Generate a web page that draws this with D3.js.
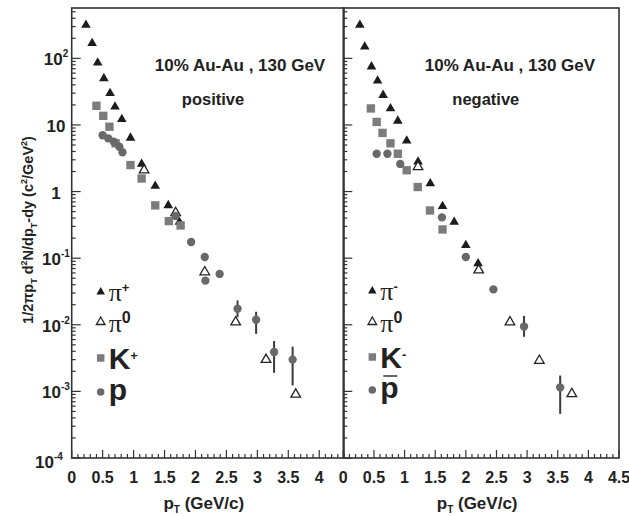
<!DOCTYPE html>
<html>
<head>
<meta charset="utf-8">
<script src="https://cdn.jsdelivr.net/npm/d3@7"></script>
<style>
  body { margin: 0; background: #fff; }
  svg { display: block; }
  text { font-family: "Liberation Sans", Arial, sans-serif; font-weight: bold; fill: #222; }
</style>
</head>
<body>
<svg id="chart" width="629" height="516"></svg>
<script>
// [pT, yield] and optional [low, high] error for a few points
const posPiPlus = [[0.23,316],[0.33,168],[0.42,86],[0.52,50],[0.62,30],[0.70,18.7],[0.81,12.2],
    [0.95,6.4],[1.13,2.6],[1.35,1.21],[1.56,0.62],[1.74,0.35]];
const posPi0 = [[1.17,2.1],[1.68,0.48],[2.15,0.062],[2.65,0.011],[3.14,0.003],[3.62,0.0009]];
const posKPlus = [[0.40,19.4],[0.51,13.7],[0.61,9.4],[0.71,5.3],[0.95,2.5],[1.13,1.57],[1.35,0.62],
    [1.57,0.36],[1.76,0.31]];
const posProton = [[0.50,7.0],[0.59,6.3],[0.68,5.6],[0.77,4.7],[0.82,3.9],[1.68,0.43],[1.93,0.175],
    [2.15,0.104],[2.16,0.046],[2.39,0.058],[2.68,0.0174,0.013,0.0232],[2.98,0.0119,0.0073,0.0157],
    [3.27,0.0039,0.0019,0.0057],[3.57,0.003,0.00123,0.0047]];

const negPiMinus = [[0.27,316],[0.35,149],[0.46,75],[0.56,46],[0.65,28],[0.77,17.7],[0.89,11.5],
    [1.035,5.8],[1.22,2.8],[1.42,1.32],[1.62,0.6],[1.81,0.35],[2.0,0.156],[2.2,0.083]];
const negPi0 = [[1.22,2.35],[2.21,0.066],[2.72,0.011],[3.2,0.0029],[3.73,0.00092]];
const negKMinus = [[0.45,17.7],[0.545,11.1],[0.64,7.6],[0.77,5.3],[0.89,3.7],[1.035,2.09],[1.215,1.17],
    [1.415,0.52],[1.62,0.27]];
const negPbar = [[0.545,3.7],[0.72,3.7],[0.93,2.6],[1.61,0.41],[2.0,0.104],[2.45,0.034],
    [2.95,0.0094,0.0066,0.0136],[3.54,0.00115,0.00046,0.00173]];

const xTicksLeft = [0, 0.5, 1, 1.5, 2, 2.5, 3, 3.5, 4];
const xTicksRight = [0, 0.5, 1, 1.5, 2, 2.5, 3, 3.5, 4, 4.5];
const yTickExps = [2, 1, 0, -1, -2, -3, -4];

const svg = d3.select("#chart");
const y = d3.scaleLog().domain([1e-4, 570]).range([458, 8]);
const xL = d3.scaleLinear().domain([0, 4.4]).range([71.7, 344]);
const xR = d3.scaleLinear().domain([0, 4.5]).range([343.3, 619]);

const triFill = "#1c1c1c", sqFill = "#7c7c7c", circFill = "#696969";

function marker(g, type, size, fill, stroke) {
    return g.append("path")
        .attr("d", d3.symbol().type(type).size(size)())
        .attr("fill", fill)
        .attr("stroke", stroke || "none")
        .attr("stroke-width", stroke ? 1.3 : 0);
}

function drawPanel(x, ticks, series, title, sub, legend) {
    const g = svg.append("g");
    const [x0, x1] = x.range();

    // minor + major ticks on bottom (pointing up)
    const minor = d3.range(0, x.domain()[1] + 0.001, 0.1);
    g.selectAll(".xt").data(minor).join("line")
        .attr("x1", d => x(d)).attr("x2", d => x(d))
        .attr("y1", 458).attr("y2", d => Math.abs(d * 2 - Math.round(d * 2)) < 0.01 ? 450 : 454)
        .attr("stroke", "#333").attr("stroke-width", 1.2);

    // log ticks on the left edge
    const yt = y.ticks();
    g.selectAll(".yt").data(yt).join("line")
        .attr("x1", x0).attr("x2", d => {
            const m = d / Math.pow(10, Math.floor(Math.log10(d) + 1e-9));
            return x0 + (Math.abs(m - 1) < 1e-6 ? 9 : 4);
        })
        .attr("y1", d => y(d)).attr("y2", d => y(d))
        .attr("stroke", "#333").attr("stroke-width", 1.2);

    g.append("rect").attr("x", x0).attr("y", 8).attr("width", x1 - x0).attr("height", 450)
        .attr("fill", "none").attr("stroke", "#333").attr("stroke-width", 1.6);

    // x tick labels
    g.selectAll(".xl").data(ticks).join("text")
        .attr("x", d => x(d)).attr("y", 483)
        .attr("text-anchor", "middle").attr("font-size", 16)
        .text(d => d);

    // x title
    const xt = g.append("text").attr("x", (x0 + x1) / 2 - 4).attr("y", 509)
        .attr("text-anchor", "middle").attr("font-size", 17);
    xt.append("tspan").text("p");
    xt.append("tspan").attr("font-size", 10).attr("dy", 4).text("T");
    xt.append("tspan").attr("dy", -4).text(" (GeV/c)");

    g.append("text").attr("x", x(2.72)).attr("y", 71).attr("text-anchor", "middle")
        .attr("font-size", 17).text(title);
    g.append("text").attr("x", x(1.78)).attr("y", 105).attr("font-size", 16.5).text(sub);

    // error bars
    series.forEach(s => {
        g.selectAll(null).data(s.data.filter(d => d.length > 2)).join("line")
            .attr("x1", d => x(d[0])).attr("x2", d => x(d[0]))
            .attr("y1", d => y(d[2])).attr("y2", d => y(d[3]))
            .attr("stroke", "#3a3a3a").attr("stroke-width", 2);
    });

    // points
    series.forEach(s => {
        s.data.forEach(d => {
            marker(g, s.type, s.size, s.fill, s.stroke)
                .attr("transform", `translate(${x(d[0])},${y(d[1])})`);
        });
    });

    // legend
    const lx = x0 + 29;
    legend.forEach((l, i) => {
        const s = series[i];
        marker(g, s.type, s.size * 0.8, s.fill, s.stroke)
            .attr("transform", `translate(${lx},${l.y})`);
        const t = g.append("text").attr("x", lx + 8).attr("y", l.y + l.dy);
        if (l.greek) {
            t.append("tspan").attr("font-family", "Liberation Serif").attr("font-weight", "normal")
                .attr("font-size", 26).text("π");
        } else {
            t.append("tspan").attr("font-size", 30).text(l.base);
            if (l.bar) {
                g.append("line").attr("x1", lx + 11).attr("x2", lx + 25)
                    .attr("y1", l.y - 14).attr("y2", l.y - 14)
                    .attr("stroke", "#333").attr("stroke-width", 1.5);
            }
        }
        if (l.sup) t.append("tspan").attr("font-size", l.sup === "0" ? 16 : 13)
            .attr("dy", -9).text(l.sup);
    });
}

drawPanel(xL, xTicksLeft, [
    { data: posPiPlus, type: d3.symbolTriangle, size: 40, fill: triFill },
    { data: posPi0, type: d3.symbolTriangle, size: 40, fill: "#fff", stroke: "#222" },
    { data: posKPlus, type: d3.symbolSquare, size: 70, fill: sqFill },
    { data: posProton, type: d3.symbolCircle, size: 55, fill: circFill }
], "10% Au-Au , 130 GeV", "positive", [
    { y: 292, dy: 9, greek: true, sup: "+" },
    { y: 322, dy: 10, greek: true, sup: "0" },
    { y: 358, dy: 11, base: "K", sup: "+" },
    { y: 392, dy: 8, base: "p" }
]);

drawPanel(xR, xTicksRight, [
    { data: negPiMinus, type: d3.symbolTriangle, size: 40, fill: triFill },
    { data: negPi0, type: d3.symbolTriangle, size: 40, fill: "#fff", stroke: "#222" },
    { data: negKMinus, type: d3.symbolSquare, size: 70, fill: sqFill },
    { data: negPbar, type: d3.symbolCircle, size: 55, fill: circFill }
], "10% Au-Au , 130 GeV", "negative", [
    { y: 291, dy: 9, greek: true, sup: "-" },
    { y: 322, dy: 10, greek: true, sup: "0" },
    { y: 357, dy: 11, base: "K", sup: "-" },
    { y: 390, dy: 8, base: "p", bar: true }
]);

// y tick labels
const yl = svg.append("g");
yTickExps.forEach(e => {
    const last = e === -4;
    const t = yl.append("text").attr("x", last ? 49 : 56).attr("y", y(Math.pow(10, e)) + (last ? 10 : 7))
        .attr("text-anchor", "middle").attr("font-size", 17);
    if (e === 0) t.text("1");
    else if (e === 1) t.text("10");
    else {
        t.append("tspan").text("10");
        t.append("tspan").attr("font-size", 10).attr("dy", -8).text(e);
    }
});

// y title
const ytl = svg.append("text").attr("transform", "translate(33,230) rotate(-90)")
    .attr("text-anchor", "middle").attr("font-size", 14.5);
ytl.append("tspan").text("1/2πp");
ytl.append("tspan").attr("font-size", 9).attr("dy", 4).text("T");
ytl.append("tspan").attr("dy", -4).text(" d");
ytl.append("tspan").attr("font-size", 9).attr("dy", -6).text("2");
ytl.append("tspan").attr("dy", 6).text("N/dp");
ytl.append("tspan").attr("font-size", 9).attr("dy", 4).text("T");
ytl.append("tspan").attr("dy", -4).text("-dy (c");
ytl.append("tspan").attr("font-size", 9).attr("dy", -6).text("2");
ytl.append("tspan").attr("dy", 6).text("/GeV");
ytl.append("tspan").attr("font-size", 9).attr("dy", -6).text("2");
ytl.append("tspan").attr("dy", 6).text(")");
</script>
</body>
</html>
